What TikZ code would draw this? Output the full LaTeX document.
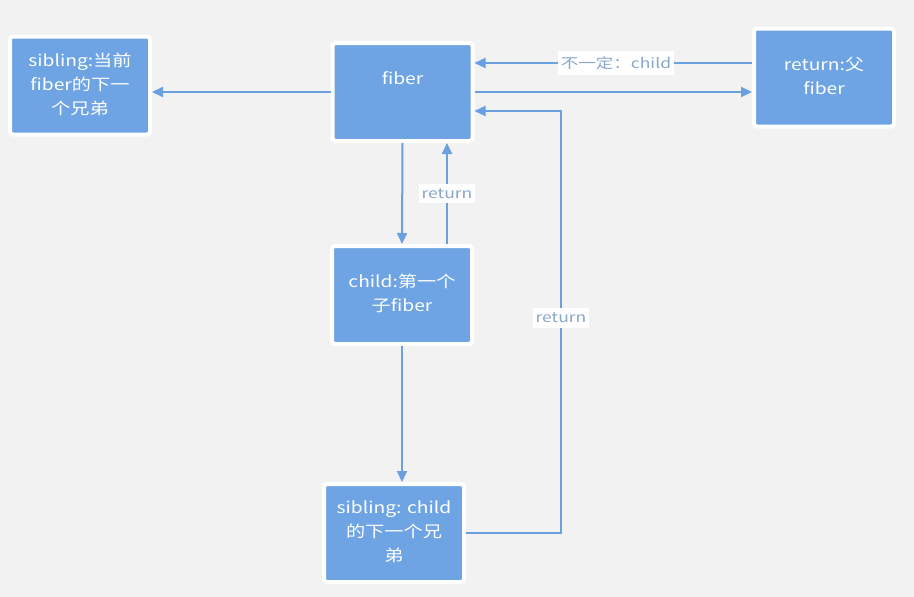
\documentclass[tikz,border=0pt]{standalone}
\usepackage{fontspec}
\usepackage{graphicx}
\setmainfont{Noto Sans CJK SC}
\usetikzlibrary{arrows.meta}
\definecolor{bg}{HTML}{F2F2F2}
\definecolor{boxblue}{HTML}{6EA4E4}
\definecolor{linkblue}{HTML}{6A9FE0}
\definecolor{labtext}{HTML}{8AA6C8}
\newcommand\boxtxt[1]{\scalebox{1.2}[1]{\begin{tabular}{@{}c@{}}#1\end{tabular}}}
\newcommand\labtxt[1]{\scalebox{1.25}[1]{#1}}
\tikzset{
  x=1pt, y=-1pt,
  box/.style={fill=boxblue, draw=white, line width=4pt, rounded corners=3pt,
    minimum width=140pt, minimum height=98pt, text=white, align=center,
    font=\fontsize{16pt}{24pt}\selectfont, inner sep=0pt},
  link/.style={draw=linkblue, line width=2pt, -{Triangle[length=11pt,width=10pt]}},
  lab/.style={fill=white, text=labtext, font=\fontsize{14pt}{16pt}\selectfont, inner xsep=3pt, inner ysep=5pt}
}
\begin{document}
\begin{tikzpicture}
\fill[bg] (0,0) rectangle (914,597);
\useasboundingbox (0,0) rectangle (914,597);

\node[box] (sib1) at (80,85.5) {\boxtxt{sibling:当前\\fiber的下一\\个兄弟}};
\node[box, label={[text=white,font=\fontsize{16pt}{24pt}\selectfont,yshift=12pt]center:\boxtxt{fiber}}] (fiber) at (402.5,92) {};
\node[box] (ret) at (824,77.5) {\boxtxt{return:父\\fiber}};
\node[box] (child) at (402,295) {\boxtxt{child:第一个\\子fiber}};
\node[box] (sib2) at (394,533) {\boxtxt{sibling: child\\的下一个兄\\弟}};

\coordinate (fup) at ([yshift=29pt]fiber.east);
\coordinate (flo) at ([yshift=-19pt]fiber.east);
\coordinate (cup) at ([xshift=45pt]child.north);

\draw[link] (fiber.west) -- (fiber.west -| sib1.east);
\draw[link] (fup -| ret.west) -- node[lab, pos=0.49] {\labtxt{不一定：child}} (fup);
\draw[link] (fiber.east) -- (fiber.east -| ret.west);
\draw[link] (fiber.south) -- (child.north);
\draw[link] (cup) -- node[lab] {\labtxt{return}} (cup |- fiber.south);
\draw[link] (child.south) -- (child.south |- sib2.north);
\draw[link] (sib2.east) -- ++(95,0) coordinate (c1) -- node[lab, pos=0.51] {\labtxt{return}} (c1 |- flo) -- (flo);
\end{tikzpicture}
\end{document}
